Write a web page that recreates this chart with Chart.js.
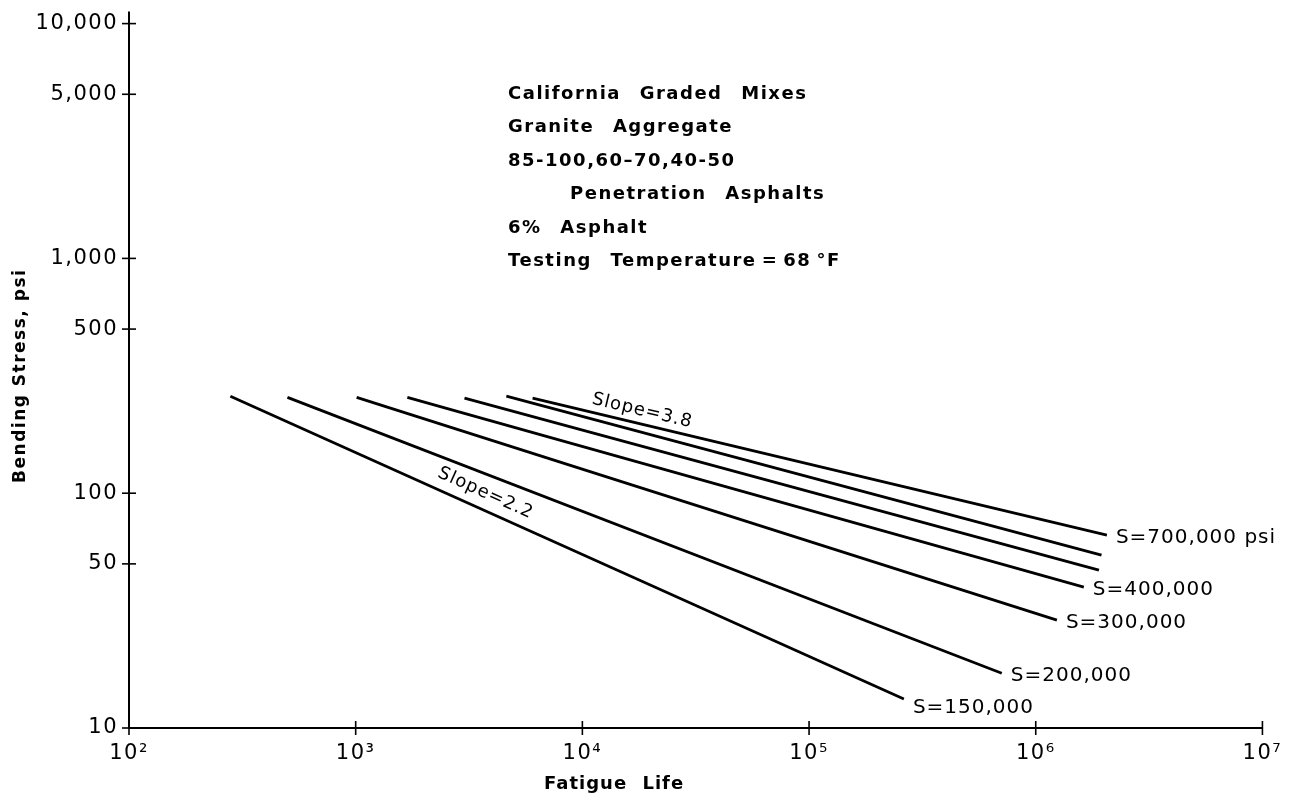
<!DOCTYPE html>
<html>
<head>
<meta charset="utf-8">
<script src="https://cdn.jsdelivr.net/npm/chart.js@4.4.1/dist/chart.umd.min.js"></script>
<style>
  html, body { margin: 0; background: #fff; }
  #wrap { width: 1293px; height: 799px; }
</style>
</head>
<body>
<div id="wrap"><canvas id="fatigueChart"></canvas></div>
<script>
// one line per mix stiffness; the two blank ones carry no label in the figure
const stiffnessLabels = ["S=150,000", "S=200,000", "S=300,000", "S=400,000", "", "", "S=700,000 psi"];
const lifeStart = [280, 500, 1010, 1690, 3020, 4620, 6030];
const stressStart = [259, 256, 256, 256, 254, 259, 254];
const lifeEnd = [262000, 708000, 1240000, 1630000, 1900000, 1950000, 2060000];
const stressEnd = [13.3, 17.1, 28.8, 39.8, 47.0, 54.5, 66.3];

const xTicks = [1e2, 1e3, 1e4, 1e5, 1e6, 1e7];
const xTickLabels = ["10²", "10³", "10⁴", "10⁵", "10⁶", "10⁷"];
const yTicks = [10, 50, 100, 500, 1000, 5000, 10000];
const yTickLabels = ["10", "50", "100", "500", "1,000", "5,000", "10,000"];

const slopeNotes = ["Slope=2.2", "Slope=3.8"];
const slopeSeries = [0, 6];
const slopeAtLife = [3500, 17800];

const infoLines = [
  "California Graded Mixes",
  "Granite Aggregate",
  "85-100,60–70,40-50",
  "Penetration Asphalts",
  "6% Asphalt",
  "Testing Temperature\u2009=\u200968\u2009°F",
];
const infoLife = 4700;
const infoStress = 5000;
const xTitleLife = 13800;

const FONT = "'DejaVu Sans', sans-serif";
const slopeGap = [7, 4];
const labelDrop = [9, 3, 3, 3, 3, 3, 3];
const infoIndent = [0, 0, 0, 62, 0, 0];

const annotate = {
  id: "annotate",
  beforeDraw(chart) {
    // wide lettering for the tick labels drawn by the scales
    chart.ctx.letterSpacing = "1.5px";
  },
  afterDraw(chart) {
    const { ctx, chartArea } = chart;
    const x = chart.scales.x;
    const y = chart.scales.y;
    ctx.save();
    ctx.strokeStyle = "#000";
    ctx.fillStyle = "#000";
    ctx.lineWidth = 1.6;

    // ticks cross the axis lines
    yTicks.forEach((v) => {
      const py = y.getPixelForValue(v);
      ctx.beginPath();
      ctx.moveTo(chartArea.left - 7, py);
      ctx.lineTo(chartArea.left + 7, py);
      ctx.stroke();
    });
    xTicks.forEach((v) => {
      const px = x.getPixelForValue(v);
      ctx.beginPath();
      ctx.moveTo(px, chartArea.bottom - 7);
      ctx.lineTo(px, chartArea.bottom + 7);
      ctx.stroke();
    });
    // axis line runs a little past the top tick
    ctx.lineWidth = 2;
    ctx.beginPath();
    ctx.moveTo(chartArea.left, chartArea.top);
    ctx.lineTo(chartArea.left, chartArea.top - 12);
    ctx.stroke();

    // stiffness labels at the end of each line
    ctx.font = `20px ${FONT}`;
    ctx.letterSpacing = "1px";
    ctx.textAlign = "left";
    ctx.textBaseline = "middle";
    stiffnessLabels.forEach((label, i) => {
      if (!label) return;
      const px = x.getPixelForValue(lifeEnd[i]) + 9;
      const py = y.getPixelForValue(stressEnd[i]) + labelDrop[i];
      ctx.fillText(label, px, py);
    });

    // slope notes follow their line
    ctx.font = `18px ${FONT}`;
    slopeNotes.forEach((note, k) => {
      const i = slopeSeries[k];
      const x0 = x.getPixelForValue(lifeStart[i]);
      const y0 = y.getPixelForValue(stressStart[i]);
      const x1 = x.getPixelForValue(lifeEnd[i]);
      const y1 = y.getPixelForValue(stressEnd[i]);
      const px = x.getPixelForValue(slopeAtLife[k]);
      const py = y0 + ((px - x0) * (y1 - y0)) / (x1 - x0);
      ctx.save();
      ctx.translate(px, py);
      ctx.rotate(Math.atan2(y1 - y0, x1 - x0));
      ctx.textAlign = "center";
      ctx.textBaseline = "bottom";
      ctx.fillText(note, 0, -slopeGap[k]);
      ctx.restore();
    });

    // test conditions block
    ctx.font = `600 18px ${FONT}`;
    ctx.letterSpacing = "1.5px";
    ctx.wordSpacing = "11px";
    ctx.textBaseline = "middle";
    const left = x.getPixelForValue(infoLife);
    const top = y.getPixelForValue(infoStress);
    infoLines.forEach((line, i) => {
      ctx.fillText(line, left + infoIndent[i], top + i * 33.4);
    });

    // x axis title sits left of centre in the original
    ctx.textAlign = "center";
    ctx.letterSpacing = "1px";
    ctx.wordSpacing = "8px";
    ctx.fillText("Fatigue Life", x.getPixelForValue(xTitleLife), chartArea.bottom + 56);
    ctx.restore();
  },
};

const datasets = stiffnessLabels.map((label, i) => ({
  label: label || `line ${i + 1}`,
  data: [
    { x: lifeStart[i], y: stressStart[i] },
    { x: lifeEnd[i], y: stressEnd[i] },
  ],
  borderColor: "#000",
  borderWidth: 2.8,
  pointRadius: 0,
  tension: 0,
}));

new Chart(document.getElementById("fatigueChart"), {
  type: "line",
  data: { datasets },
  plugins: [annotate],
  options: {
    responsive: true,
    maintainAspectRatio: false,
    animation: false,
    layout: { padding: { top: 23, right: 29, left: 0, bottom: 0 } },
    plugins: { legend: { display: false }, tooltip: { enabled: false } },
    scales: {
      x: {
        type: "logarithmic",
        min: 1e2,
        max: 1e7,
        afterBuildTicks: (scale) => {
          scale.ticks = xTicks.map((value) => ({ value }));
        },
        afterFit: (scale) => {
          scale.height = 71;
        },
        ticks: {
          autoSkip: false,
          maxRotation: 0,
          padding: 13,
          color: "#000",
          font: { family: FONT, size: 21 },
          callback: (value, index) => xTickLabels[index],
        },
        grid: { display: true, drawOnChartArea: false, drawTicks: false },
        border: { display: true, color: "#000", width: 2 },
      },
      y: {
        type: "logarithmic",
        min: 10,
        max: 10000,
        afterBuildTicks: (scale) => {
          scale.ticks = yTicks.map((value) => ({ value }));
        },
        afterFit: (scale) => {
          scale.width = 129;
        },
        ticks: {
          autoSkip: false,
          padding: 11,
          color: "#000",
          font: { family: FONT, size: 21 },
          callback: (value, index) => yTickLabels[index],
        },
        title: {
          display: true,
          text: "Bending Stress, psi",
          color: "#000",
          font: { family: FONT, size: 17, weight: "600" },
          padding: { top: 10, bottom: 0 },
        },
        grid: { display: true, drawOnChartArea: false, drawTicks: false },
        border: { display: true, color: "#000", width: 2 },
      },
    },
  },
});
</script>
</body>
</html>
